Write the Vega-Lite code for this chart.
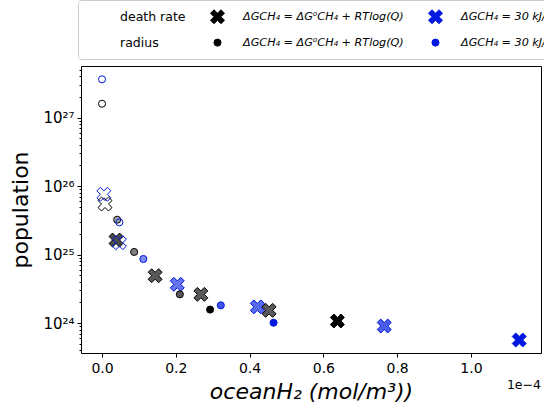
{
  "$schema": "https://vega.github.io/schema/vega-lite/v6.json",
  "width": 460,
  "height": 287,
  "autosize": {"type": "none"},
  "padding": {"left": 81, "top": 66, "right": 3, "bottom": 67},
  "background": "white",
  "config": {
    "font": "DejaVu Sans",
    "view": {"stroke": "#000000", "strokeWidth": 1},
    "axis": {"grid": false, "domain": false, "tickColor": "#000000", "labelColor": "#000000", "titleColor": "#000000", "labelFont": "DejaVu Sans", "titleFont": "DejaVu Sans", "labelFontSize": 14, "titleFontWeight": "normal", "titleFontSize": 22}
  },
  "data": {"values": [
    {"x": 0.0, "pop": 1.59e27, "series": "bo", "level": 0},
    {"x": 0.0, "pop": 3.61e27, "series": "uo", "level": 0},
    {"x": 0.005, "pop": 7.57e25, "series": "ux", "level": 0},
    {"x": 0.008, "pop": 5.46e25, "series": "bx", "level": 0},
    {"x": 0.038, "pop": 1.63e25, "series": "bx", "level": 0.7},
    {"x": 0.041, "pop": 3.22e25, "series": "bo", "level": 0.35},
    {"x": 0.047, "pop": 1.49e25, "series": "ux", "level": 0.03},
    {"x": 0.047, "pop": 2.95e25, "series": "uo", "level": 0.03},
    {"x": 0.087, "pop": 1.09e25, "series": "bo", "level": 0.5},
    {"x": 0.112, "pop": 8.6e24, "series": "uo", "level": 0.5},
    {"x": 0.144, "pop": 4.9e24, "series": "bx", "level": 0.65},
    {"x": 0.204, "pop": 3.67e24, "series": "ux", "level": 0.6},
    {"x": 0.211, "pop": 2.62e24, "series": "bo", "level": 0.65},
    {"x": 0.268, "pop": 2.62e24, "series": "bx", "level": 0.65},
    {"x": 0.293, "pop": 1.57e24, "series": "bo", "level": 1.0},
    {"x": 0.322, "pop": 1.81e24, "series": "uo", "level": 0.75},
    {"x": 0.421, "pop": 1.72e24, "series": "ux", "level": 0.65},
    {"x": 0.453, "pop": 1.53e24, "series": "bx", "level": 0.65},
    {"x": 0.465, "pop": 1.01e24, "series": "uo", "level": 1.0},
    {"x": 0.638, "pop": 1.07e24, "series": "bx", "level": 1.0},
    {"x": 0.765, "pop": 9.04e23, "series": "ux", "level": 0.7},
    {"x": 1.131, "pop": 5.65e23, "series": "ux", "level": 1.0}
  ]},
  "layer": [
    {
      "mark": {"type": "point", "filled": false, "strokeWidth": 1, "opacity": 1},
      "encoding": {
        "x": {"field": "x", "type": "quantitative",
          "scale": {"domain": [-0.057, 1.19], "nice": false, "zero": false},
          "axis": {"values": [0, 0.2, 0.4, 0.6, 0.8, 1.0], "format": ".1f", "tickSize": 4, "labelPadding": 4, "title": "oceanH₂ (mol/m³))", "titleFontStyle": "italic", "titlePadding": 6}},
        "y": {"field": "pop", "type": "quantitative",
          "scale": {"type": "log", "domain": [3.65e23, 5.65e27], "nice": false},
          "axis": {
            "values": [4e23, 5e23, 6e23, 7e23, 8e23, 9e23, 1e24, 2e24, 3e24, 4e24, 5e24, 6e24, 7e24, 8e24, 9e24, 1e25, 2e25, 3e25, 4e25, 5e25, 6e25, 7e25, 8e25, 9e25, 1e26, 2e26, 3e26, 4e26, 5e26, 6e26, 7e26, 8e26, 9e26, 1e27, 2e27, 3e27, 4e27, 5e27],
            "labelExpr": "abs(log(datum.value)/LN10 - round(log(datum.value)/LN10)) < 0.01 ? ['10²⁴','10²⁵','10²⁶','10²⁷'][round(log(datum.value)/LN10) - 24] : ''",
            "tickSize": {"condition": {"test": "abs(log(datum.value)/LN10 - round(log(datum.value)/LN10)) < 0.01", "value": 4}, "value": 2},
            "labelPadding": 3, "labelOverlap": false, "labelBound": false, "labelFontSize": 15,
            "title": "population", "titlePadding": 10}},
        "shape": {"field": "series", "type": "nominal",
          "scale": {"domain": ["h1", "bx", "ux", "h2", "bo", "uo"],
            "range": ["circle", "M-1,-0.5L-0.5,-1L0,-0.5L0.5,-1L1,-0.5L0.5,0L1,0.5L0.5,1L0,0.5L-0.5,1L-1,0.5L-0.5,0Z", "M-1,-0.5L-0.5,-1L0,-0.5L0.5,-1L1,-0.5L0.5,0L1,0.5L0.5,1L0,0.5L-0.5,1L-1,0.5L-0.5,0Z", "circle", "circle", "circle"]}},
        "size": {"field": "series", "type": "nominal",
          "scale": {"type": "ordinal", "domain": ["h1", "bx", "ux", "h2", "bo", "uo"], "range": [50, 195, 195, 50, 50, 50]}},
        "fill": {"field": "series", "type": "nominal",
          "scale": {"domain": ["h1", "bx", "ux", "h2", "bo", "uo"], "range": ["transparent", "#000000", "#0018e0", "transparent", "#000000", "#0018e0"]},
          "legend": {
            "orient": "none", "legendX": -3, "legendY": -66, "direction": "horizontal", "columns": 3, "title": null,
            "fillColor": "white", "strokeColor": "#cccccc", "cornerRadius": 3, "padding": 9,
            "labelFontSize": 12.5, "labelFont": "DejaVu Sans", "labelColor": "#000000", "labelLimit": 400, "labelOffset": 18,
            "rowPadding": 10, "columnPadding": 22, "symbolStrokeWidth": 1, "symbolOpacity": 1,
            "labelExpr": "datum.value == 'h1' ? 'death rate' : datum.value == 'h2' ? 'radius' : (datum.value == 'bx' || datum.value == 'bo') ? 'ΔGCH₄ = ΔG⁰CH₄ + RTlog(Q)' : 'ΔGCH₄ = 30 kJ/mol'",
            "encode": {"labels": {"update": {
              "fontStyle": {"signal": "datum.value == 'h1' || datum.value == 'h2' ? 'normal' : 'italic'"},
              "fontSize": {"signal": "datum.value == 'h1' || datum.value == 'h2' ? 12.5 : 11.2"}
            }}}
          }},
        "stroke": {"field": "series", "type": "nominal",
          "scale": {"domain": ["h1", "bx", "ux", "h2", "bo", "uo"], "range": ["transparent", "#000000", "#0018e0", "transparent", "#000000", "#0018e0"]}},
        "fillOpacity": {"field": "level", "type": "quantitative", "scale": {"domain": [0, 1], "range": [0, 1]}, "legend": null}
      }
    },
    {
      "data": {"values": [{}]},
      "mark": {"type": "text", "text": "1e−4", "align": "right", "baseline": "top", "dy": 26, "fontSize": 12.5, "font": "DejaVu Sans", "fontWeight": "normal", "color": "#000000"},
      "encoding": {
        "x": {"datum": 1.19, "type": "quantitative"},
        "y": {"datum": 3.65e23, "type": "quantitative"}
      }
    }
  ]
}
